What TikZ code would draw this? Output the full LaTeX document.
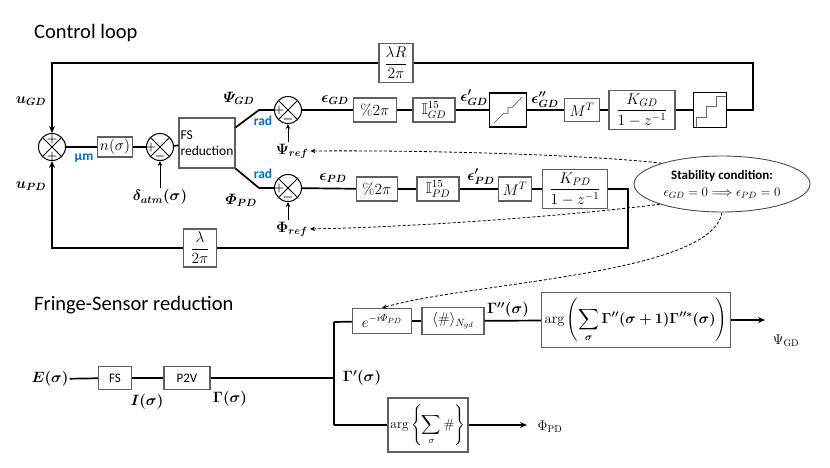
\RequirePackage{fix-cm}
\documentclass[tikz,border=0pt]{standalone}
\usepackage{amsmath,amssymb,bm}
\usepackage{fontspec}
\setsansfont{Carlito}
\usetikzlibrary{shapes.geometric,arrows.meta,calc}
\definecolor{radblue}{RGB}{0,112,192}
\definecolor{boxgray}{RGB}{95,95,95}
\newcommand\itPsi{\mathchar"0109 }
\newcommand\itPhi{\mathchar"0108 }
\begin{document}
\begin{tikzpicture}[x=1pt,y=-1pt,
 wire/.style={line width=1.7pt},
 arr/.style={line width=1.7pt,-{Stealth[length=7pt,width=6pt]}},
 thinarr/.style={line width=0.9pt,-{Stealth[length=5pt,width=4.5pt]}},
 dsh/.style={line width=0.8pt,dash pattern=on 3pt off 2pt,-{Stealth[length=5pt,width=4.5pt]}},
 blk/.style={draw=boxgray,line width=1.1pt,fill=white,inner sep=1pt,font=\fontsize{15.5}{18}\selectfont},
 sblk/.style={blk,font=\sffamily\fontsize{13}{15}\selectfont},
 lab/.style={inner sep=1pt,font=\fontsize{15}{17}\selectfont\boldmath},
 blu/.style={inner sep=1pt,text=radblue,font=\sffamily\bfseries\fontsize{13.5}{15}\selectfont},
 sgn/.style={inner sep=0pt,font=\fontsize{12}{12}\selectfont},
 ttl/.style={anchor=west,inner sep=0pt,font=\sffamily\fontsize{20.5}{24}\selectfont},
 sumj/.style={circle,draw,line width=1pt,minimum size=27pt,inner sep=0pt,fill=white,
   path picture={\draw[line width=0.8pt] (path picture bounding box.north west) -- (path picture bounding box.south east)
     (path picture bounding box.north east) -- (path picture bounding box.south west);}},
]
\useasboundingbox (0,0) rectangle (830,467);

% titles
\node[ttl] (t1) at (34,33) {Control loop};
\node[ttl] (t2) at (34,305) {Fringe-Sensor reduction};

% ---------- control loop ----------
\node[sumj] (j1) at (52,147) {};
\node[sgn] (j1a) at (52,139) {$\bm{+}$};
\node[sgn] (j1b) at (52,156) {$\bm{+}$};
\node[blk,minimum width=35pt,minimum height=20pt] (n) at (115,147) {$n(\sigma)$};
\node[sumj] (j2) at (160,147) {};
\node[sgn] (j2a) at (151,147) {$\bm{+}$};
\node[sgn] (j2b) at (160,156) {$\bm{-}$};
\node[blk,font=\sffamily\fontsize{13.5}{16}\selectfont,align=left,minimum width=56pt,minimum height=50pt] (fsr) at (207,143) {FS\\reduction};

\coordinate (bt) at (259,110);
\coordinate (bb) at (259,188);
\node[sumj] (jP) at (288,110) {};
\node[sgn] (jPa) at (279,110) {$\bm{+}$};
\node[sgn] (jPb) at (288,119) {$\bm{-}$};
\node[sumj] (jF) at (288,188) {};
\node[sgn] (jFa) at (279,188) {$\bm{+}$};
\node[sgn] (jFb) at (288,197) {$\bm{-}$};

% GD row
\node[blk,minimum width=43pt,minimum height=24pt] (pg) at (375,110) {$\%2\pi$};
\node[blk,minimum width=42pt,minimum height=24pt] (ig) at (434,110) {$\mathbb{I}^{15}_{GD}$};
\node[blk,draw=black,minimum width=37pt,minimum height=34pt] (qz) at (508,110) {};
\node[blk,minimum width=35pt,minimum height=23pt] (mg) at (582,110) {$M^T$};
\node[blk,minimum width=66pt,minimum height=39pt] (kg) at (642,110) {$\dfrac{K_{GD}}{1-z^{-1}}$};
\node[blk,draw=black,minimum width=33pt,minimum height=35pt] (st) at (710,110) {};
\draw[line width=0.6pt,black!70] (494,123) -- (503.5,113.4) -- (508,113.4) -- (508,107.3) -- (512.4,107.3) -- (522,97);
\draw[line width=0.6pt,black!60] (696.7,126.7) -- (696.7,117.3) -- (706.7,117.3) -- (706.7,106.7) -- (716.7,106.7) -- (716.7,96.7) -- (725.7,96.7);

% PD row
\node[blk,minimum width=41pt,minimum height=24pt] (pp) at (377,189) {$\%2\pi$};
\node[blk,minimum width=42pt,minimum height=24pt] (ip) at (438,189) {$\mathbb{I}^{15}_{PD}$};
\node[blk,minimum width=33pt,minimum height=24pt] (mp) at (515,189) {$M^T$};
\node[blk,minimum width=65pt,minimum height=39pt] (kp) at (575,189) {$\dfrac{K_{PD}}{1-z^{-1}}$};

% feedback gains
\node[blk,minimum width=34pt,minimum height=39pt] (lr) at (396,63) {$\dfrac{\lambda R}{2\pi}$};
\node[blk,minimum width=33pt,minimum height=38pt] (lp) at (200,248) {$\dfrac{\lambda}{2\pi}$};

\coordinate (cr1) at (753,110);
\coordinate (cr2) at (753,63);
\coordinate (cl1) at (52,63);
\coordinate (cp1) at (628,189);
\coordinate (cp2) at (628,248);
\coordinate (cl2) at (52,248);

% wires
\draw[wire] (j1) -- (n);
\draw[wire] (n) -- (j2);
\draw[wire] (j2) -- (fsr);
\draw[wire] ($(fsr.north east)+(0,10)$) -- (bt) -- (jP);
\draw[wire] (fsr.south east) -- (bb) -- (jF);
\draw[wire] (jP) -- (pg);
\draw[wire] (pg) -- (ig);
\draw[wire] (ig) -- (qz);
\draw[wire] (qz) -- (mg);
\draw[wire] (mg) -- (kg);
\draw[wire] (kg) -- (st);
\draw[wire] (st) -- (cr1) -- (cr2) -- (lr);
\draw[arr] (lr) -- (cl1) -- (j1);
\draw[wire] (jF) -- (pp);
\draw[wire] (pp) -- (ip);
\draw[wire] (ip) -- (mp);
\draw[wire] (mp) -- (kp);
\draw[wire] (kp) -- (cp1) -- (cp2) -- (lp);
\draw[arr] (lp) -- (cl2) -- (j1);

% labels
\node[lab] (uG) at (31,101) {$u_{GD}$};
\node[lab] (uP) at (31,186) {$u_{PD}$};
\node[blu] (um) at (84,158) {µm};
\node[lab] (da) at (160,197) {$\delta_{atm}(\sigma)$};
\draw[thinarr] (j2.south |- da.north) -- (j2.south);
\node[lab] (PsG) at (239,98) {$\itPsi_{GD}$};
\node[lab] (PhP) at (241,200) {$\itPhi_{PD}$};
\node[blu] (r1) at (263,121) {rad};
\node[blu] (r2) at (263,174) {rad};
\node[lab,inner sep=2pt] (pref) at (292,151) {$\Psi_{ref}$};
\node[lab,inner sep=2pt] (fref) at (292,229) {$\Phi_{ref}$};
\draw[thinarr] (jP.south |- pref.north) -- (jP.south);
\draw[thinarr] (jF.south |- fref.north) -- (jF.south);
\node[lab] (eG) at (335,100) {$\epsilon_{GD}$};
\node[lab] (eG1) at (474,98) {$\epsilon'_{GD}$};
\node[lab] (eG2) at (545,100) {$\epsilon''_{GD}$};
\node[lab] (eP) at (333,178) {$\epsilon_{PD}$};
\node[lab] (eP1) at (481,177) {$\epsilon'_{PD}$};

% stability
\node[ellipse,draw=black!70,line width=0.9pt,fill=white,minimum width=176pt,minimum height=56pt,align=center,inner sep=0pt] (el) at (722,184)
 {{\sffamily\bfseries\fontsize{13}{15}\selectfont Stability condition:}\\[5pt] {\fontsize{13}{15}\selectfont$\epsilon_{GD}=0\Longrightarrow\epsilon_{PD}=0$}};

% ---------- fringe sensor ----------
\node[lab] (E) at (50,379) {$E(\sigma)$};
\node[sblk,minimum width=33pt,minimum height=23pt] (fs) at (115,378) {FS};
\node[sblk,minimum width=46pt,minimum height=23pt] (p2v) at (187,378) {P2V};
\node[lab] (I) at (147,402) {$I(\sigma)$};
\node[lab] (G) at (230,399) {$\Gamma(\sigma)$};
\coordinate (jn) at (334,378);
\coordinate (jt) at (334,322);
\coordinate (jb) at (334,425);
\node[lab] (G1) at (362,378) {$\Gamma'(\sigma)$};
\node[blk,font=\fontsize{15}{17}\selectfont,minimum width=59pt,minimum height=25pt] (eb) at (382,321) {$e^{-i\itPhi_{PD}}$};
\node[blk,font=\fontsize{15}{17}\selectfont,minimum width=62pt,minimum height=27pt] (nb) at (453,321) {$\langle\#\rangle_{N_{gd}}$};
\node[lab] (G2) at (508,310) {$\Gamma''(\sigma)$};
\node[blk,font=\fontsize{14.5}{17}\selectfont,minimum width=189pt,minimum height=55pt] (ag) at (636,320)
 {$\arg\left(\displaystyle\sum_{\bm\sigma}\bm{\Gamma''(\sigma+1)\Gamma''^{*}(\sigma)}\right)$};
\node[blk,font=\fontsize{13.5}{16}\selectfont,minimum width=80pt,minimum height=54pt] (ab) at (428,425)
 {$\arg\left\{\displaystyle\sum_{\sigma}\#\right\}$};
\coordinate (o1) at (765,320);
\coordinate (o2) at (527,425);
\node[inner sep=1pt,font=\fontsize{14}{16}\selectfont] (oPs) at (786,341) {$\Psi_{\mathrm{GD}}$};
\node[inner sep=1pt,font=\fontsize{14}{16}\selectfont] (oPh) at (550,427) {$\Phi_{\mathrm{PD}}$};

\draw[wire] (E) -- (fs);
\draw[wire] (fs) -- (p2v);
\draw[wire] (p2v) -- (jn);
\draw[wire] (jt) -- (jb);
\draw[wire] (jt) -- (eb);
\draw[wire] (eb) -- (nb);
\draw[wire] (nb) -- (ag);
\draw[arr] (ag) -- (o1);
\draw[wire] (jb) -- (ab);
\draw[arr] (ab) -- (o2);

% dashed
\draw[dsh] (el.161) .. controls (600,156) and (450,150) .. (pref.east);
\draw[dsh] (el.198) .. controls (600,212) and (450,226) .. (fref.east);
\draw[dsh] (el.south) .. controls (712,275) and (470,282) .. (eb.north);
\end{tikzpicture}
\end{document}
